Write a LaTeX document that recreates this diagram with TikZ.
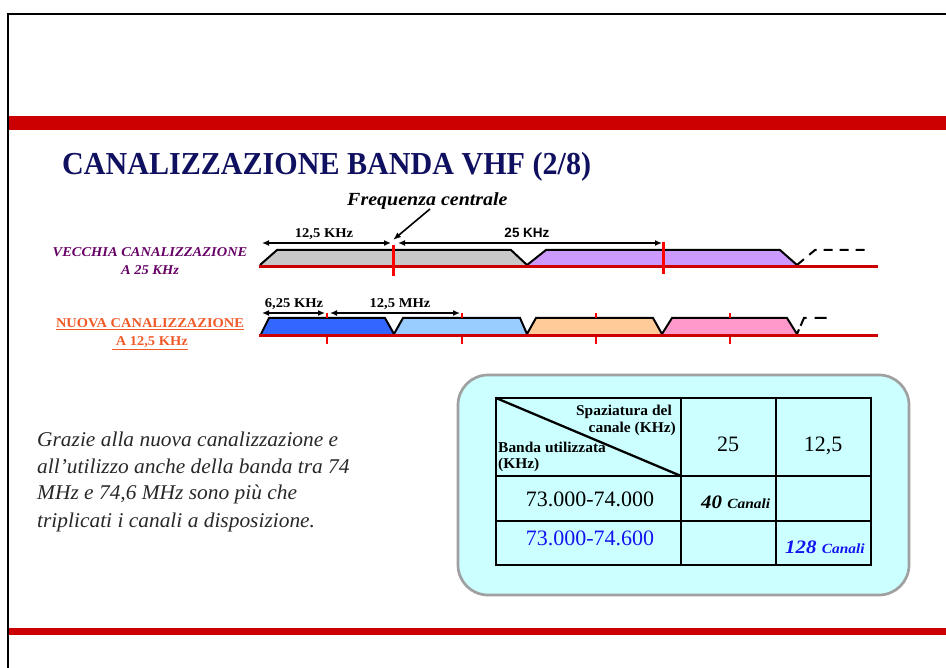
\documentclass[tikz,border=0pt]{standalone}
\usepackage{fontspec}
\setmainfont{Liberation Serif}
\setsansfont{Liberation Sans}
\usetikzlibrary{arrows.meta}
\definecolor{bandred}{RGB}{204,0,0}
\definecolor{markred}{RGB}{255,0,0}
\definecolor{titlenavy}{RGB}{16,16,96}
\definecolor{oldpurple}{RGB}{102,0,102}
\definecolor{neworange}{RGB}{240,90,40}
\definecolor{fgray}{RGB}{200,200,200}
\definecolor{fpurple}{RGB}{204,153,255}
\definecolor{fblue}{RGB}{51,102,255}
\definecolor{flblue}{RGB}{153,204,255}
\definecolor{forange}{RGB}{255,204,153}
\definecolor{fpink}{RGB}{255,153,204}
\definecolor{boxcyan}{RGB}{204,255,255}
\definecolor{boxgray}{RGB}{160,160,160}
\definecolor{textgray}{RGB}{40,40,40}
\definecolor{tblue}{RGB}{20,20,240}
\newcommand\hsc[2]{\scalebox{#1}[1]{#2}}
\tikzset{
  outl/.style={draw=black,line width=2pt,line join=miter},
  baseln/.style={draw=bandred,line width=3pt},
  marktop/.style={draw=markred,line width=3pt},
  markbot/.style={draw=markred,line width=2.5pt},
  dimarrow/.style={draw=black,line width=1.6pt,{Latex[length=7pt,width=6pt]}-{Latex[length=7pt,width=6pt]}},
  dimlabel/.style={font=\fontsize{13.5}{13.5}\selectfont\bfseries,anchor=base,inner sep=0pt},
  sidelabel/.style={font=\fontsize{13.5}{13.5}\selectfont\bfseries,anchor=base,inner sep=0pt},
  para/.style={font=\fontsize{21}{21}\selectfont\itshape,text=textgray,anchor=base west,inner sep=0pt},
  hdr/.style={font=\fontsize{15}{15}\selectfont\bfseries,inner sep=0pt},
  cell/.style={font=\fontsize{22}{22}\selectfont,anchor=base,inner sep=0pt},
  tline/.style={draw=black,line width=2pt},
}
\begin{document}
\begin{tikzpicture}[x=1pt,y=-1pt]
\useasboundingbox (0,0) rectangle (946,668);
% frame
\draw[line width=2pt] (7.5,670) -- (7.5,14) -- (948,14);
% red bands
\fill[bandred] (8.5,116) rectangle (946,130);
\fill[bandred] (8.5,628) rectangle (946,635);
% title
\node[anchor=base west,inner sep=0pt,text=titlenavy] (title) at (62,175)
  {\hsc{0.94}{\fontsize{32}{32}\selectfont\bfseries CANALIZZAZIONE BANDA VHF (2/8)}};

% ---------- old channelling row ----------
\node[sidelabel,text=oldpurple] (old1) at (150,257) {\hsc{1.07}{\itshape VECCHIA CANALIZZAZIONE}};
\node[sidelabel,text=oldpurple] (old2) at (150,275) {\hsc{1.07}{\itshape A 25 KHz}};

\fill[fgray] (260,265) -- (277,250) -- (511,250) -- (527,265) -- cycle;
\fill[fpurple] (527,265) -- (546,250) -- (780,250) -- (797,265) -- cycle;
\draw[outl] (260,265) -- (277,250) -- (511,250) -- (527,265) -- (546,250) -- (780,250) -- (797,265);
\draw[outl,dash pattern=on 9pt off 7pt] (797,265) -- (815,250) -- (870,250);
\draw[baseln] (259,267) -- (878,267);
\draw[marktop] (393,245) -- (393,276);
\draw[marktop] (663,242) -- (663,274);

\coordinate (a1) at (262,243);
\coordinate (a2) at (391,243);
\coordinate (a3) at (398,243);
\coordinate (a4) at (662,243);
\draw[dimarrow] (a1) -- (a2);
\draw[dimarrow] (a3) -- (a4);
\node[dimlabel] (l125) at (324,238) {\hsc{1.08}{12,5 KHz}};
\node[dimlabel,font=\fontsize{13.5}{13.5}\selectfont\sffamily\bfseries] (l25) at (527,238) {25 KHz};

\node[anchor=base west,inner sep=0pt,font=\fontsize{18.5}{18.5}\selectfont\bfseries\itshape] (fc) at (347,206) {\hsc{1.08}{Frequenza centrale}};
\coordinate (fcs) at (430,209);
\coordinate (fce) at (393,240);
\draw[line width=1.6pt,-{Latex[length=8pt,width=6pt]}] (fcs) -- (fce);

% ---------- new channelling row ----------
\node[sidelabel,text=neworange] (new1) at (150,328) {\underline{\hsc{1.07}{NUOVA CANALIZZAZIONE}}};
\node[sidelabel,text=neworange] (new2) at (150,346) {\underline{\hsc{1.07}{\ A 12,5 KHz}}};

\draw[markbot] (327,313) -- (327,344);
\draw[markbot] (462,313) -- (462,344);
\draw[markbot] (596,313) -- (596,344);
\draw[markbot] (730,313) -- (730,344);

\fill[fblue] (261,334) -- (269,318) -- (385,318) -- (394,334) -- cycle;
\fill[flblue] (394,334) -- (403,318) -- (520,318) -- (527,334) -- cycle;
\fill[forange] (527,334) -- (536,318) -- (653,318) -- (662,334) -- cycle;
\fill[fpink] (662,334) -- (672,318) -- (787,318) -- (797,334) -- cycle;
\draw[outl] (261,334) -- (269,318) -- (385,318) -- (394,334) -- (403,318) -- (520,318) -- (527,334) -- (536,318) -- (653,318) -- (662,334) -- (672,318) -- (787,318) -- (797,334);
\draw[outl,dash pattern=on 5pt off 4pt on 11pt off 8pt on 12pt off 30pt] (797,334) -- (804,318) -- (836,318);
\draw[baseln] (259,336) -- (878,336);
\draw[markred,line width=2.5pt] (327,313) -- (327,318);
\draw[markred,line width=2.5pt] (462,313) -- (462,318);
\draw[markred,line width=2.5pt] (596,313) -- (596,318);
\draw[markred,line width=2.5pt] (730,313) -- (730,318);

\coordinate (b1) at (262,313);
\coordinate (b2) at (325,313);
\coordinate (b3) at (330,313);
\coordinate (b4) at (460,313);
\draw[dimarrow] (b1) -- (b2);
\draw[dimarrow] (b3) -- (b4);
\node[dimlabel] (l625) at (294,308) {\hsc{1.08}{6,25 KHz}};
\node[dimlabel] (l125m) at (400,308) {\hsc{1.08}{12,5 MHz}};

% ---------- paragraph ----------
\node[para] (p1) at (37,447) {\hsc{1.02}{Grazie alla nuova canalizzazione e}};
\node[para] (p2) at (37,474) {\hsc{1.02}{all’utilizzo anche della banda tra 74}};
\node[para] (p3) at (37,500) {\hsc{1.02}{MHz e 74,6 MHz sono più che}};
\node[para] (p4) at (37,527) {\hsc{1.02}{triplicati i canali a disposizione.}};

% ---------- table box ----------
\draw[draw=boxgray,fill=boxcyan,line width=2.7pt,rounded corners=30pt] (458,375) rectangle (909,595);
\draw[tline] (496,398) rectangle (871,565);
\draw[tline] (496,476) -- (871,476);
\draw[tline] (496,521) -- (871,521);
\draw[tline] (681,398) -- (681,565);
\draw[tline] (776,398) -- (776,565);
\coordinate (d1) at (496,398);
\coordinate (d2) at (681,476);
\draw[line width=2.3pt] (d1) -- (d2);

\node[hdr,anchor=base east] (h1) at (672,416) {\hsc{1.03}{Spaziatura del}};
\node[hdr,anchor=base east] (h2) at (676,433) {\hsc{1.03}{canale (KHz)}};
\node[hdr,anchor=base west] (h3) at (498,453) {\hsc{1.03}{Banda utilizzata}};
\node[hdr,anchor=base west] (h4) at (498,468) {\hsc{1.03}{(KHz)}};

\node[cell] (c25) at (728,452) {25};
\node[cell] (c125) at (823,452) {12,5};
\node[cell] (r1) at (590,507) {73.000-74.000};
\node[cell,text=tblue] (r2) at (590,545) {73.000-74.600};
\node[anchor=base west,inner sep=0pt,font=\bfseries\itshape] (n40) at (701,508)
  {\hsc{1.1}{\fontsize{19}{19}\selectfont 40 \fontsize{14}{14}\selectfont Canali}};
\node[anchor=base west,inner sep=0pt,font=\bfseries\itshape,text=tblue] (n128) at (785,553)
  {\hsc{1.1}{\fontsize{19}{19}\selectfont 128 \fontsize{14}{14}\selectfont Canali}};
\end{tikzpicture}
\end{document}
